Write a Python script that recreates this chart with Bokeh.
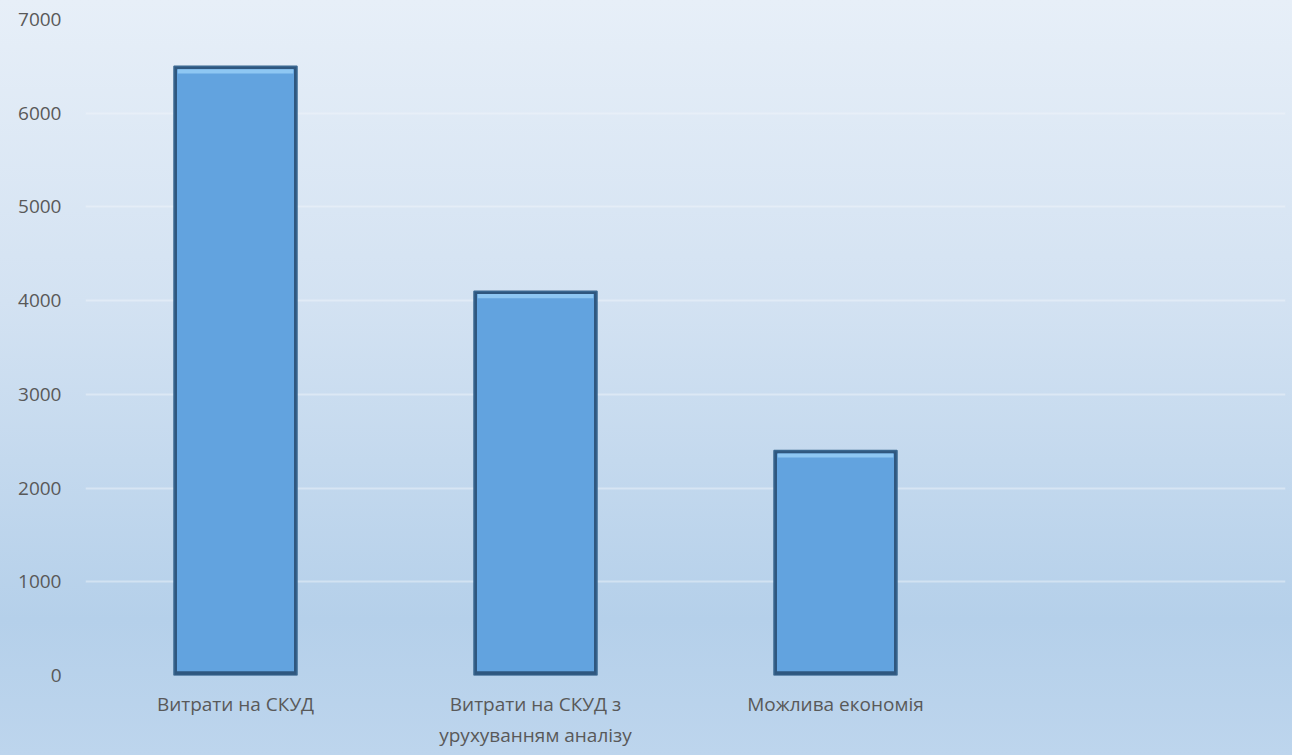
from bokeh.plotting import figure
from bokeh.models import FactorRange, ColumnDataSource, FixedTicker
from bokeh.embed import file_html
from bokeh.resources import INLINE

categories = ["Витрати на СКУД", "Витрати на СКУД з\nурухуванням аналізу", "Можлива економія"]
values = [6500, 4100, 2400]
blank_slot = " "
y_ticks = [0, 1000, 2000, 3000, 4000, 5000, 6000, 7000]

factors = categories + [blank_slot]

p = figure(
    width=1292, height=755,
    x_range=FactorRange(*factors, range_padding=0),
    y_range=(0, 7000),
    output_backend="svg", toolbar_location=None,
    min_border_left=85, min_border_right=7, min_border_top=19, min_border_bottom=80,
)
p.styles = {"background": "linear-gradient(180deg, #e7eff8 0%, #d3e2f2 40%, #b5d0ea 82%, #bdd5ed 100%)"}
p.background_fill_alpha = 0
p.border_fill_alpha = 0
p.outline_line_color = None

src = ColumnDataSource(dict(
    x=categories,
    top=values,
    hl_top=[v - 30 for v in values],
    hl_bot=[v - 75 for v in values],
))

# dark bevel frame
p.vbar(x="x", top="top", bottom=0, width=0.41, source=src,
       fill_color="#2f577f", line_color="#3a6790", line_width=1.5)
# bar body
p.vbar(x="x", top="hl_top", bottom=45, width=0.39, source=src,
       fill_color="#62a3df", line_color=None)
# top highlight band
p.vbar(x="x", top="hl_top", bottom="hl_bot", width=0.385, source=src,
       fill_color="#8ec7f3", line_color=None)

p.yaxis.ticker = FixedTicker(ticks=y_ticks)
p.ygrid.ticker = FixedTicker(ticks=y_ticks)
p.ygrid.grid_line_color = "#f2f6fb"
p.ygrid.grid_line_alpha = 0.45
p.ygrid.grid_line_width = 2
p.xgrid.grid_line_color = None

for ax in (p.xaxis, p.yaxis):
    ax.axis_line_color = None
    ax.major_tick_line_color = None
    ax.minor_tick_line_color = None
    ax.major_label_text_font = "Open Sans"
    ax.major_label_text_font_size = "19px"
    ax.major_label_text_color = "#595959"

p.yaxis.major_label_standoff = 18
p.xaxis.major_label_standoff = 9

with open("out.html", "w") as f:
    f.write(file_html(p, INLINE))
